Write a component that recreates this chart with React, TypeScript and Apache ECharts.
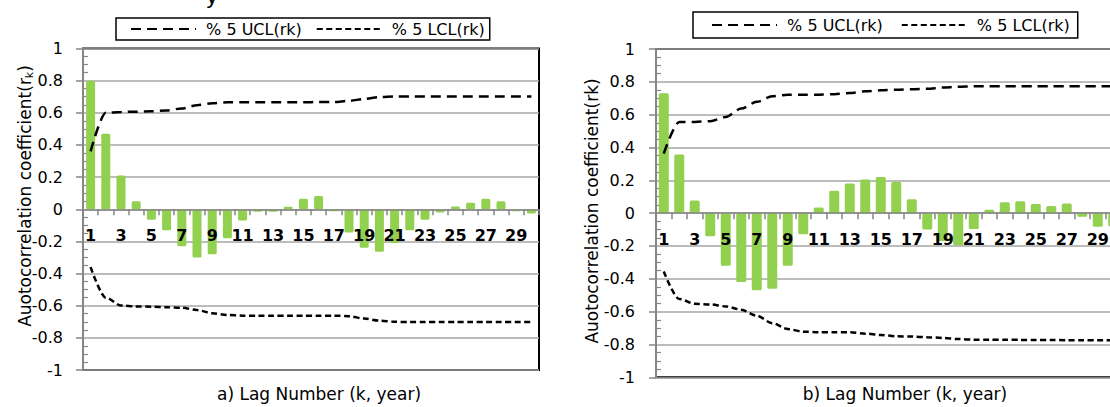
import React, { useEffect, useRef } from "react";
import * as echarts from "echarts";

const lags = ["1","2","3","4","5","6","7","8","9","10","11","12","13","14","15","16","17","18","19","20","21","22","23","24","25","26","27","28","29","30"];

const leftAcf = [0.80, 0.47, 0.21, 0.05, -0.065, -0.13, -0.23, -0.30, -0.28, -0.18, -0.07, -0.015, -0.015, 0.015, 0.065, 0.083, -0.012, -0.145, -0.24, -0.265, -0.21, -0.13, -0.065, -0.02, 0.017, 0.04, 0.066, 0.05, -0.012, -0.027];
const leftUcl = [0.36, 0.60, 0.605, 0.607, 0.61, 0.615, 0.627, 0.647, 0.66, 0.665, 0.665, 0.665, 0.665, 0.665, 0.665, 0.667, 0.667, 0.675, 0.686, 0.698, 0.702, 0.702, 0.702, 0.702, 0.702, 0.702, 0.702, 0.702, 0.702, 0.702];
const leftLcl = [-0.36, -0.55, -0.598, -0.605, -0.606, -0.61, -0.613, -0.627, -0.647, -0.658, -0.662, -0.662, -0.662, -0.662, -0.662, -0.662, -0.662, -0.665, -0.68, -0.693, -0.70, -0.702, -0.702, -0.702, -0.702, -0.702, -0.702, -0.702, -0.702, -0.702];

const rightAcf = [0.73, 0.357, 0.077, -0.14, -0.32, -0.42, -0.47, -0.46, -0.32, -0.128, 0.034, 0.136, 0.18, 0.205, 0.22, 0.19, 0.085, -0.10, -0.17, -0.195, -0.097, 0.02, 0.067, 0.073, 0.055, 0.043, 0.059, -0.022, -0.083, -0.08];
const rightUcl = [0.363, 0.556, 0.556, 0.56, 0.586, 0.637, 0.678, 0.712, 0.722, 0.722, 0.722, 0.725, 0.732, 0.742, 0.748, 0.752, 0.755, 0.758, 0.765, 0.77, 0.773, 0.773, 0.773, 0.773, 0.773, 0.773, 0.773, 0.773, 0.773, 0.773];
const rightLcl = [-0.355, -0.523, -0.552, -0.556, -0.568, -0.588, -0.625, -0.67, -0.706, -0.722, -0.725, -0.725, -0.725, -0.734, -0.742, -0.75, -0.752, -0.756, -0.76, -0.767, -0.771, -0.771, -0.772, -0.772, -0.773, -0.773, -0.774, -0.774, -0.775, -0.775];

const UCL_NAME = "% 5 UCL(rk)";
const LCL_NAME = "% 5 LCL(rk)";
const FONT = "DejaVu Sans";
const BAR_COLOR = "#92D050";
const AXIS_GRAY = "#868686";
const GRID_GRAY = "#a6a6a6";

// grid geometry (pixels)
const LEFT_GRID = { left: 83, right: 591, top: 48.5, bottom: 37 };
const RIGHT_GRID = { left: 656, right: 9, top: 49, bottom: 29.7 };
const CHART_H = 407;

function zeroOffset(g: { top: number; bottom: number }) {
  const h = CHART_H - g.top - g.bottom;
  return -h / 2;
}

function xAxisFor(gridIndex: number, offset: number) {
  return {
    type: "category",
    gridIndex,
    position: "bottom",
    offset,
    data: lags,
    boundaryGap: true,
    z: 10,
    axisLine: { onZero: false, lineStyle: { color: AXIS_GRAY, width: 1.5 } },
    axisTick: { show: true, interval: 0, length: 6, lineStyle: { color: AXIS_GRAY, width: 1.5 } },
    axisLabel: { interval: 1, fontFamily: FONT, fontWeight: "bold", fontSize: 16, color: "#000", margin: 18 },
    splitLine: { show: false },
  };
}

function yAxesFor(gridIndex: number, margin: number) {
  return [
    {
      type: "value",
      gridIndex,
      position: "left",
      min: -1,
      max: 1,
      interval: 0.2,
      axisLine: { show: true, onZero: false, lineStyle: { color: AXIS_GRAY, width: 2 } },
      axisTick: { show: true, length: 7, lineStyle: { color: AXIS_GRAY, width: 1.5 } },
      axisLabel: { fontFamily: FONT, fontSize: 16, color: "#000", margin },
      splitLine: { show: true, lineStyle: { color: GRID_GRAY, width: 1.5 } },
    },
    {
      type: "value",
      gridIndex,
      position: "left",
      min: -1,
      max: 1,
      interval: 0.2,
      axisLine: { show: false, onZero: false },
      axisTick: { show: false, inside: true },
      axisLabel: { show: false },
      splitLine: { show: false },
      minorTick: { show: true, splitNumber: 4, length: 5, lineStyle: { color: AXIS_GRAY, width: 1.2 } },
    },
  ];
}

function seriesFor(idx: number, acf: number[], ucl: number[], lcl: number[], barWidth: number) {
  const yIdx = idx * 2;
  return [
    {
      type: "bar",
      name: "rk" + idx,
      xAxisIndex: idx,
      yAxisIndex: yIdx,
      data: acf,
      barWidth,
      itemStyle: { color: BAR_COLOR, borderRadius: 1.5 },
    },
    {
      type: "line",
      name: UCL_NAME,
      xAxisIndex: idx,
      yAxisIndex: yIdx,
      data: ucl,
      symbol: "none",
      smooth: 0.3,
      smoothMonotone: "x",
      itemStyle: { color: "#000" },
      lineStyle: { color: "#000", width: 2.5, type: [10, 6] },
      z: 5,
    },
    {
      type: "line",
      name: LCL_NAME,
      xAxisIndex: idx,
      yAxisIndex: yIdx,
      data: lcl,
      symbol: "none",
      smooth: 0.3,
      smoothMonotone: "x",
      itemStyle: { color: "#000" },
      lineStyle: { color: "#000", width: 2.5, type: [6, 3.5] },
      z: 5,
    },
  ];
}

export default function App() {
  const ref = useRef<HTMLDivElement>(null);

  useEffect(() => {
    if (!ref.current) return;
    const chart = echarts.init(ref.current, null, { renderer: "svg" });
    const legendCommon = {
      orient: "horizontal",
      borderColor: "#000",
      borderWidth: 1.5,
      itemWidth: 65,
      itemHeight: 18,
      itemStyle: { opacity: 0 },
      formatter: (n: string) => " " + n,
      textStyle: { fontFamily: FONT, fontSize: 16, color: "#000" },
      data: [UCL_NAME, LCL_NAME],
      selectedMode: false,
    };
    chart.setOption({
      animation: false,
      backgroundColor: "#fff",
      grid: [
        { ...LEFT_GRID, show: true, borderColor: "#000", borderWidth: 2, backgroundColor: "transparent" },
        { ...RIGHT_GRID, show: true, borderColor: "#000", borderWidth: 2, backgroundColor: "transparent" },
      ],
      legend: [
        { ...legendCommon, left: 116, top: 18, padding: [3, 5, 3, 14], itemGap: 14 },
        { ...legendCommon, left: 693, top: 12, padding: [5, 8, 5, 18], itemGap: 18 },
      ],
      xAxis: [xAxisFor(0, zeroOffset(LEFT_GRID)), xAxisFor(1, zeroOffset(RIGHT_GRID))],
      yAxis: [...yAxesFor(0, 20), ...yAxesFor(1, 21)],
      series: [
        ...seriesFor(0, leftAcf, leftUcl, leftLcl, 9),
        ...seriesFor(1, rightAcf, rightUcl, rightLcl, 10),
      ],
      graphic: [
        {
          type: "text",
          x: 212,
          y: 7,
          style: { text: "y", fontFamily: FONT, fontSize: 22, fill: "#000", align: "center", verticalAlign: "bottom" },
        },
        {
          type: "text",
          x: 319,
          y: 394,
          style: { text: "a) Lag Number (k, year)", fontFamily: FONT, fontSize: 17, fill: "#000", align: "center", verticalAlign: "middle" },
        },
        {
          type: "text",
          x: 905,
          y: 394,
          style: { text: "b) Lag Number (k, year)", fontFamily: FONT, fontSize: 17, fill: "#000", align: "center", verticalAlign: "middle" },
        },
        {
          type: "text",
          x: 25,
          y: 196,
          rotation: Math.PI / 2,
          style: {
            text: "Auotocorrelation coefficient(r{sub|k})",
            fontFamily: FONT,
            fontSize: 17,
            fill: "#000",
            align: "center",
            verticalAlign: "middle",
            lineHeight: 20,
            rich: {
              sub: { fontFamily: FONT, fontSize: 11, fill: "#000", verticalAlign: "bottom", lineHeight: 20, padding: [9, 0, 0, 0] },
            },
          },
        },
        {
          type: "text",
          x: 592,
          y: 211,
          rotation: Math.PI / 2,
          style: { text: "Auotocorrelation coefficient(rk)", fontFamily: FONT, fontSize: 17, fill: "#000", align: "center", verticalAlign: "middle" },
        },
      ],
    });
    return () => chart.dispose();
  }, []);

  return (
    <div style={{ position: "absolute", left: 0, top: 0, width: 1110, height: 407, overflow: "hidden", background: "#fff" }}>
      <div ref={ref} style={{ width: 1130, height: 407 }} />
    </div>
  );
}
